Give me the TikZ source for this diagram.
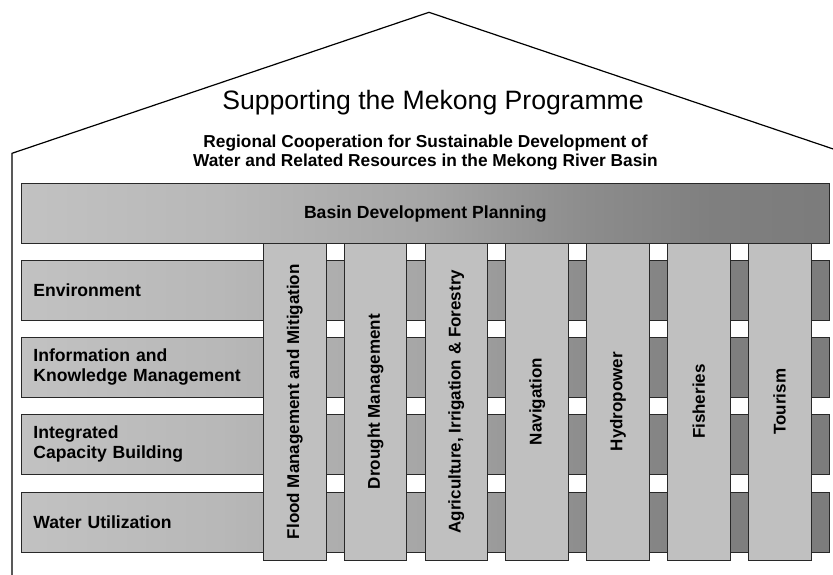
\documentclass[tikz,border=0pt]{standalone}
\usepackage{fontspec}
\setmainfont{Liberation Sans}
\definecolor{lite}{RGB}{192,192,192}
\definecolor{edge}{RGB}{40,40,40}
\pgfdeclarehorizontalshading{mekshade}{100bp}{rgb(0bp)=(.76,.76,.76); rgb(25bp)=(.76,.76,.76); rgb(37.5bp)=(.72,.72,.72); rgb(50bp)=(.65,.65,.65); rgb(60bp)=(.55,.55,.55); rgb(67.5bp)=(.5,.5,.5); rgb(75bp)=(.485,.485,.485); rgb(100bp)=(.485,.485,.485)}
\begin{document}
\begin{tikzpicture}[x=1pt,y=-1pt,
  box/.style={draw=edge, line width=0.9pt},
  rowbox/.style={box, shading=mekshade, anchor=north west, minimum width=808.3pt, minimum height=60pt,
     text width=783.7pt, inner xsep=12.3pt, inner ysep=0pt, align=left,
     font=\bfseries\fontsize{17.6}{20}\selectfont},
  colbox/.style={box, fill=lite, rotate=90, minimum width=316.7pt, minimum height=62.7pt, inner sep=0pt,
     font=\bfseries\fontsize{17}{20}\selectfont},
]
\useasboundingbox (0,0) rectangle (833,574);
\clip (0,0) rectangle (833,574);
% house outline
\coordinate (wallbottom) at (12,590);
\coordinate (eaveL) at (12,153.3);
\coordinate (apex) at (429,12.3);
\coordinate (eaveR) at (846,153.3);
\draw[line width=1.2pt, line join=miter] (wallbottom) -- (eaveL) -- (apex) -- (eaveR);
% titles
\node[font=\fontsize{26.6}{30}\selectfont, anchor=base] (title) at (433,109.3) {Supporting the Mekong Programme};
\node[font=\bfseries\fontsize{17.3}{19}\selectfont, anchor=base] (sub1) at (425.5,147.7) {Regional Cooperation for Sustainable Development of};
\node[font=\bfseries\fontsize{17.3}{19}\selectfont, anchor=base] (sub2) at (425.5,166.5) {Water and Related Resources in the Mekong River Basin};
% basin bar
\node[box, shading=mekshade, anchor=north west, minimum width=808.3pt, minimum height=60.3pt, inner sep=0pt,
      font=\bfseries\fontsize{17.6}{20}\selectfont] (basin) at (20.7,183) {Basin Development Planning};
% rows
\node[rowbox] (env) at (20.7,260) {Environment};
\node[rowbox] (info) at (20.7,337) {Information and\\Knowledge Management};
\node[rowbox] (icb) at (20.7,414) {Integrated\\Capacity Building};
\node[rowbox] (wu) at (20.7,492) {Water Utilization};
% columns
\node[colbox] (c1) at (294.65,401.65) {Flood Management and Mitigation};
\node[colbox] (c2) at (375.48,401.65) {Drought Management};
\node[colbox] (c3) at (456.31,401.65) {Agriculture, Irrigation \& Forestry};
\node[colbox] (c4) at (537.14,401.65) {Navigation};
\node[colbox] (c5) at (617.97,401.65) {Hydropower};
\node[colbox] (c6) at (698.80,401.65) {Fisheries};
\node[colbox] (c7) at (779.63,401.65) {Tourism};
\end{tikzpicture}
\end{document}
